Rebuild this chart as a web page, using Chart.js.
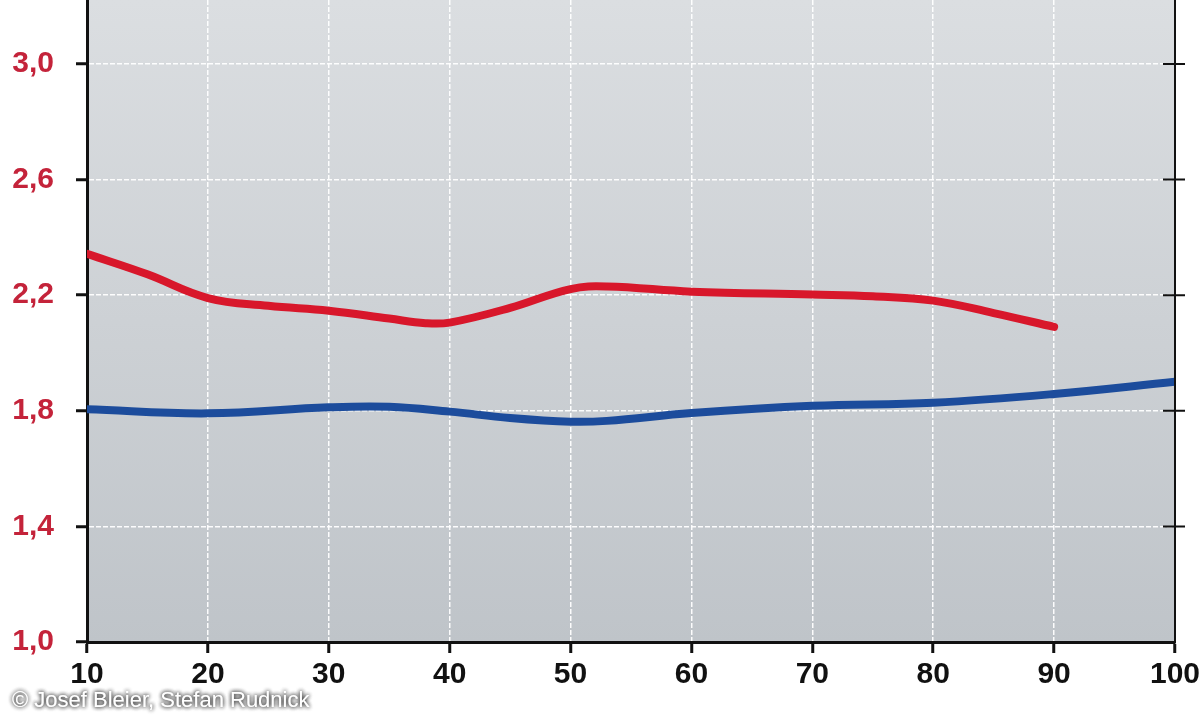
<!DOCTYPE html>
<html>
<head>
<meta charset="utf-8">
<script src="https://cdn.jsdelivr.net/npm/chart.js@4/dist/chart.umd.min.js"></script>
<style>
    html, body { margin: 0; padding: 0; background: #ffffff; }
    #wrap { width: 1200px; height: 720px; position: relative; }
</style>
</head>
<body>
<div id="wrap"><canvas id="chart"></canvas></div>
<script>
// ---------------------------------------------------------------------------
// Data
// ---------------------------------------------------------------------------
const xTicks = [10, 20, 30, 40, 50, 60, 70, 80, 90, 100];
const yTicks = [1.0, 1.4, 1.8, 2.2, 2.6, 3.0];

const redX = [10, 15, 20, 25, 30, 35, 38, 40, 45, 50, 53, 60, 70, 75, 80, 85, 90];
const redY = [2.343, 2.272, 2.190, 2.163, 2.146, 2.119, 2.103, 2.105, 2.156, 2.221, 2.230, 2.212, 2.202, 2.196, 2.181, 2.138, 2.090];

const blueX = [10, 20, 30, 35, 40, 45, 50, 53, 60, 70, 80, 90, 100];
const blueY = [1.805, 1.791, 1.812, 1.814, 1.797, 1.775, 1.762, 1.765, 1.792, 1.817, 1.828, 1.858, 1.900];

const credit = '\u00A9 Josef Bleier, Stefan Rudnick';

// ---------------------------------------------------------------------------
// Helpers
// ---------------------------------------------------------------------------
function toPoints(xs, ys) {
    return xs.map((x, i) => ({ x: x, y: ys[i] }));
}

function fmtComma(v) {
    return v.toFixed(1).replace('.', ',');
}

const FONT = "'Liberation Sans', Arial, sans-serif";

// plot background: light grey gradient
const plotBackground = {
    id: 'plotBackground',
    beforeDraw(chart) {
        const { ctx, chartArea: a } = chart;
        const g = ctx.createLinearGradient(0, a.top, 0, a.bottom);
        g.addColorStop(0, '#dbdee1');
        g.addColorStop(1, '#bfc4c9');
        ctx.save();
        ctx.fillStyle = g;
        ctx.fillRect(a.left, a.top, a.right - a.left, a.bottom - a.top);
        ctx.restore();
    }
};

// right-hand axis line with ticks crossing it, plus credit text
const rightAxis = {
    id: 'rightAxis',
    afterDraw(chart) {
        const { ctx, chartArea: a } = chart;
        const y = chart.scales.y;
        ctx.save();
        ctx.strokeStyle = '#111111';
        ctx.lineWidth = 2;
        ctx.beginPath();
        ctx.moveTo(a.right, a.top);
        ctx.lineTo(a.right, a.bottom + 1);
        y.ticks.forEach(t => {
            if (t.value <= 1.0) return;
            const py = y.getPixelForValue(t.value);
            ctx.moveTo(a.right - 12, py);
            ctx.lineTo(a.right + 10, py);
        });
        ctx.stroke();

        ctx.font = '22px ' + FONT;
        ctx.fillStyle = '#ffffff';
        ctx.shadowColor = 'rgba(40, 40, 40, 0.95)';
        ctx.shadowBlur = 4;
        ctx.textBaseline = 'alphabetic';
        ctx.fillText(credit, 12, 707);
        ctx.fillText(credit, 12, 707);
        ctx.restore();
    }
};

// ---------------------------------------------------------------------------
// Chart
// ---------------------------------------------------------------------------
const gridOpts = {
    color: 'rgba(255, 255, 255, 0.95)',
    lineWidth: 1.5,
    tickColor: '#111111',
    tickWidth: 3,
    tickLength: 11,
};

new Chart(document.getElementById('chart'), {
    type: 'line',
    data: {
        datasets: [{
            label: 'rot',
            data: toPoints(redX, redY),
            borderColor: '#d8172b',
            borderWidth: 8,
            borderCapStyle: 'round',
            pointRadius: 0,
            tension: 0.4,
            fill: false,
        }, {
            label: 'blau',
            data: toPoints(blueX, blueY),
            borderColor: '#1c4c9c',
            borderWidth: 8,
            borderCapStyle: 'round',
            pointRadius: 0,
            tension: 0.4,
            fill: false,
        }]
    },
    options: {
        responsive: true,
        maintainAspectRatio: false,
        animation: false,
        layout: { padding: { top: 0, right: 25, left: 0, bottom: 0 } },
        plugins: {
            legend: { display: false },
            tooltip: { enabled: false },
        },
        scales: {
            x: {
                type: 'linear',
                min: 10,
                max: 100,
                afterBuildTicks: (s) => { s.ticks = xTicks.map(v => ({ value: v })); },
                afterFit: (s) => { s.height = 78; s.paddingLeft = 0; s.paddingRight = 0; },
                ticks: {
                    color: '#111111',
                    font: { family: FONT, size: 30, weight: 'bold' },
                    padding: 4,
                    maxRotation: 0,
                    autoSkip: false,
                },
                grid: gridOpts,
                border: { display: true, color: '#111111', width: 3, dash: [5, 2] },
            },
            y: {
                min: 1.0,
                max: 3.221,
                afterBuildTicks: (s) => { s.ticks = yTicks.map(v => ({ value: v })); },
                afterFit: (s) => { s.width = 87; s.paddingTop = 0; s.paddingBottom = 0; },
                ticks: {
                    color: '#c4233a',
                    font: { family: FONT, size: 30, weight: 'bold' },
                    padding: 22,
                    callback: (v) => fmtComma(v),
                },
                grid: gridOpts,
                border: { display: true, color: '#111111', width: 3, dash: [5, 2] },
            },
        },
    },
    plugins: [plotBackground, rightAxis],
});
</script>
</body>
</html>
